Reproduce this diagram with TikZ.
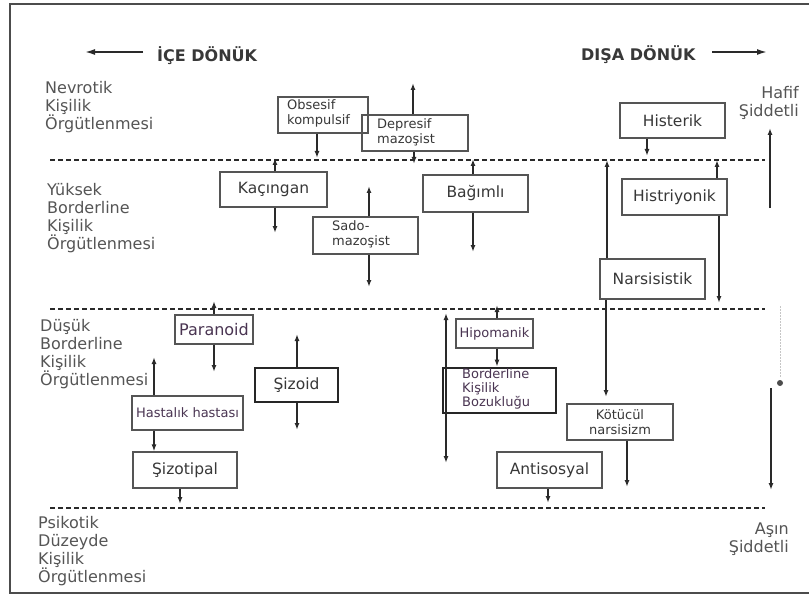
\documentclass[tikz,border=0pt]{standalone}
\usepackage{fontspec}
\setmainfont{DejaVu Sans}
\usetikzlibrary{arrows.meta}
\definecolor{lblgray}{HTML}{555555}
\definecolor{txtgray}{HTML}{383838}
\definecolor{boxgray}{HTML}{555555}
\definecolor{linegray}{HTML}{2a2a2a}
\definecolor{purp}{HTML}{4a3552}
\begin{document}
\begin{tikzpicture}[x=1pt,y=-1pt,
  lbl/.style={font=\fontsize{16pt}{18pt}\selectfont, text=lblgray, align=left, inner sep=0pt, anchor=north west},
  rlbl/.style={lbl, align=right, anchor=north east},
  ttl/.style={font=\fontsize{16pt}{18pt}\selectfont\bfseries, text=txtgray, inner sep=0pt, anchor=base west},
  bx/.style={draw=boxgray, line width=1.3pt, inner sep=0pt, text=txtgray, font=\fontsize{15.5pt}{17pt}\selectfont},
  tbx/.style={bx, draw=black!85, line width=2.8pt},
  smallf/.style={font=\fontsize{13pt}{15pt}\selectfont},
  small/.style={smallf, text=txtgray, align=left, inner sep=0pt, anchor=north west},
  arr/.style={draw=linegray, line width=1.4pt, -{Latex[length=7pt,width=5pt]}},
  darr/.style={draw=linegray, line width=1.4pt, {Latex[length=7pt,width=5pt]}-{Latex[length=7pt,width=5pt]}},
  bigarr/.style={draw=linegray, line width=1.6pt, -{Latex[length=10pt,width=6pt]}},
  dline/.style={draw=linegray, line width=2pt, dash pattern=on 5pt off 3pt},
]
\useasboundingbox (0,0) rectangle (809,599);
\fill[white] (0,0) rectangle (809,599);
% frame
\draw[line width=2pt, draw=black!70] (812,4) -- (10,4) -- (10,593) -- (812,593);

% titles
\node[ttl] (ice) at (157,62) {İÇE DÖNÜK};
\node[ttl] (disa) at (581,61) {DIŞA DÖNÜK};
\coordinate (iceS) at (143,52); \coordinate (iceE) at (85,52);
\coordinate (disS) at (712,52); \coordinate (disE) at (767,52);
\draw[bigarr] (iceS) -- (iceE);
\draw[bigarr] (disS) -- (disE);

% level labels
\node[lbl] (nev) at (45,81) {Nevrotik\\Kişilik\\Örgütlenmesi};
\node[lbl] (yuk) at (47,183) {Yüksek\\Borderline\\Kişilik\\Örgütlenmesi};
\node[lbl] (dus) at (40,319) {Düşük\\Borderline\\Kişilik\\Örgütlenmesi};
\node[lbl] (psi) at (38,516) {Psikotik\\Düzeyde\\Kişilik\\Örgütlenmesi};
\node[rlbl] (haf) at (799,86) {Hafif\\Şiddetli};
\node[rlbl] (asin) at (789,523) {Aşın\\Şiddetli};

% dashed level lines
\coordinate (d1a) at (50,160); \coordinate (d1b) at (765,160);
\coordinate (d2a) at (50,309); \coordinate (d2b) at (765,309);
\coordinate (d3a) at (50,508); \coordinate (d3b) at (765,508);
\draw[dline] (d1a) -- (d1b);
\draw[dline] (d2a) -- (d2b);
\draw[dline] (d3a) -- (d3b);

% severity arrows
\coordinate (hafS) at (770,208); \coordinate (hafE) at (770,128);
\coordinate (asS) at (771,388); \coordinate (asE) at (771,490);
\draw[arr] (hafS) -- (hafE);
\draw[arr] (asS) -- (asE);
% faint mark
\draw[gray!45, line width=1pt, dash pattern=on 1.5pt off 1.5pt] (780,306) -- (780,378);
\fill[black!70] (780,383) circle (3pt);

% boxes
\node[bx, minimum width=90pt, minimum height=36pt] (obs) at (323,115) {};
\node[small] (obsT) at (287,99) {Obsesif\\kompulsif};
\node[bx, minimum width=106pt, minimum height=36pt] (dep) at (415,133) {};
\node[small] (depT) at (377,118) {Depresif\\mazoşist};
\node[bx, minimum width=105pt, minimum height=35pt] (his) at (672.5,120.5) {Histerik};
\node[bx, minimum width=107pt, minimum height=35pt] (kac) at (273.5,189.5) {Kaçıngan};
\node[bx, minimum width=105pt, minimum height=37pt] (sado) at (365.5,235.5) {};
\node[small] (sadoT) at (332,220) {Sado-\\mazoşist};
\node[bx, minimum width=105pt, minimum height=37pt] (bag) at (475.5,193.5) {Bağımlı};
\node[bx, minimum width=105pt, minimum height=36pt] (histr) at (674.5,197) {Histriyonik};
\node[bx, minimum width=105pt, minimum height=40pt] (nar) at (652.5,279) {Narsisistik};
\node[bx, smallf, align=center, minimum width=106pt, minimum height=36pt] (kot) at (620,422) {Kötücül\\narsisizm};
\node[bx, font=\fontsize{16pt}{18pt}\selectfont, text=purp, minimum width=78pt, minimum height=29pt] (par) at (214,329.5) {Paranoid};
\node[tbx, minimum width=83pt, minimum height=34pt] (siz) at (296.5,385) {Şizoid};
\node[bx, smallf, text=purp, minimum width=111pt, minimum height=34pt] (hh) at (187.5,413) {Hastalık hastası};
\node[bx, minimum width=104pt, minimum height=36pt] (sizt) at (185,470) {Şizotipal};
\node[bx, smallf, text=purp, minimum width=77pt, minimum height=29pt] (hip) at (494.5,333.5) {Hipomanik};
\node[tbx, minimum width=113pt, minimum height=45pt] (bpd) at (499.5,390.5) {};
\node[small, text=purp, font=\fontsize{13pt}{14pt}\selectfont] (bpdT) at (462,368) {Borderline\\Kişilik\\Bozukluğu};
\node[bx, minimum width=105pt, minimum height=36pt] (anti) at (549.5,470) {Antisosyal};

% free ends
\coordinate (obsE) at (317,158);
\coordinate (depU) at (413,83);
\coordinate (depD) at (414,164);
\coordinate (hisD) at (647,156);
\coordinate (kacU) at (275,158);
\coordinate (kacD) at (275,233);
\coordinate (sadoU) at (369,186);
\coordinate (sadoD) at (369,287);
\coordinate (bagU) at (473,159);
\coordinate (bagD) at (473,252);
\coordinate (histrU) at (717,160);
\coordinate (histrD) at (719,303);
\coordinate (narU) at (607,160);
\coordinate (narD) at (606,397);
\coordinate (kotD) at (627,487);
\coordinate (parU) at (214,301);
\coordinate (parD) at (214,372);
\coordinate (sizU) at (297,334);
\coordinate (sizD) at (297,430);
\coordinate (hhU) at (154,357);
\coordinate (siztD) at (180,504);
\coordinate (hipU) at (497,305);
\coordinate (longA) at (446,313);
\coordinate (longB) at (446,463);
\coordinate (antiD) at (548,503);

% connectors
\draw[arr] ([xshift=-6pt]obs.south) -- (obsE);
\draw[arr] ([xshift=-2pt]dep.north) -- (depU);
\draw[arr] ([xshift=-1pt]dep.south) -- (depD);
\draw[arr] ([xshift=-25.5pt]his.south) -- (hisD);
\draw[arr] ([xshift=1.5pt]kac.north) -- (kacU);
\draw[arr] ([xshift=1.5pt]kac.south) -- (kacD);
\draw[arr] ([xshift=3.5pt]sado.north) -- (sadoU);
\draw[arr] ([xshift=3.5pt]sado.south) -- (sadoD);
\draw[arr] ([xshift=-2.5pt]bag.north) -- (bagU);
\draw[arr] ([xshift=-2.5pt]bag.south) -- (bagD);
\draw[arr] ([xshift=42.5pt]histr.north) -- (histrU);
\draw[arr] ([xshift=44.5pt]histr.south) -- (histrD);
\draw[arr] ([xshift=-45.5pt]nar.north) -- (narU);
\draw[arr] ([xshift=-46.5pt]nar.south) -- (narD);
\draw[arr] ([xshift=7pt]kot.south) -- (kotD);
\draw[arr] (par.north) -- (parU);
\draw[arr] (par.south) -- (parD);
\draw[arr] ([xshift=0.5pt]siz.north) -- (sizU);
\draw[arr] ([xshift=0.5pt]siz.south) -- (sizD);
\draw[arr] ([xshift=-33.5pt]hh.north) -- (hhU);
\draw[arr] ([xshift=-33.5pt]hh.south) -- ([xshift=-31pt]sizt.north);
\draw[arr] ([xshift=-5pt]sizt.south) -- (siztD);
\draw[arr] ([xshift=2.5pt]hip.north) -- (hipU);
\draw[arr] ([xshift=2.5pt]hip.south) -- ([xshift=-2.5pt]bpd.north);
\draw[darr] (longA) -- (longB);
\draw[arr] ([xshift=-1.5pt]anti.south) -- (antiD);
\end{tikzpicture}
\end{document}
